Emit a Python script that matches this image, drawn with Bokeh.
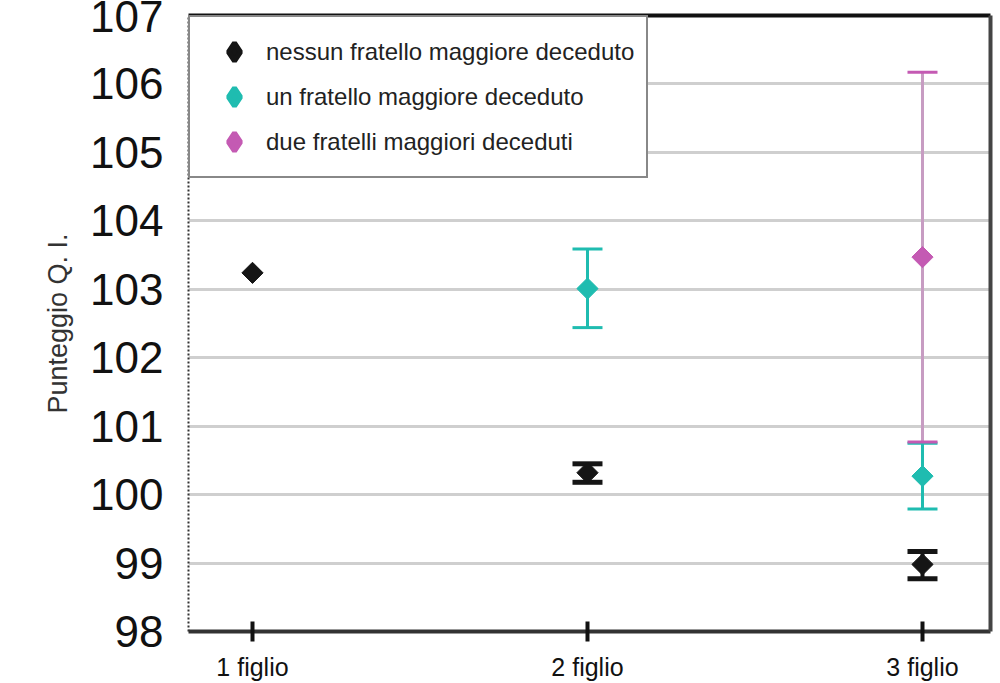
from bokeh.embed import file_html
from bokeh.resources import INLINE
from bokeh.plotting import figure
from bokeh.models import (ColumnDataSource, Range1d, FixedTicker, LinearAxis,
                          Whisker, TeeHead, Legend, LegendItem)
import numpy as np

# categories on the x axis
categories = ["1 figlio", "2 figlio", "3 figlio"]
cat_pos = [1, 2, 3]

# nessun fratello maggiore deceduto (black)
none_x = [1, 2, 3]
none_mean = [103.24, 100.32, 98.98]
none_low = [103.24, 100.18, 98.77]
none_high = [103.24, 100.45, 99.17]

# un fratello maggiore deceduto (teal)
one_x = [2, 3]
one_mean = [103.01, 100.27]
one_low = [102.44, 99.79]
one_high = [103.59, 100.75]

# due fratelli maggiori deceduti (magenta)
two_x = [3]
two_mean = [103.47]
two_low = [100.77]
two_high = [106.17]

legend_labels = ["nessun fratello maggiore deceduto",
                 "un fratello maggiore deceduto",
                 "due fratelli maggiori deceduti"]

FONT = "Liberation Sans"

p = figure(width=1000, height=683, output_backend="svg", toolbar_location=None,
           x_range=Range1d(0.809, 3.203), y_range=Range1d(98, 107),
           min_border_left=188, min_border_top=15, min_border_right=10, min_border_bottom=51)
p.outline_line_color = None
p.background_fill_color = "white"
p.border_fill_color = "white"

# grid
p.xgrid.grid_line_color = None
p.ygrid.grid_line_color = "#cfcfcf"
p.ygrid.grid_line_width = 3
p.yaxis.ticker = FixedTicker(ticks=list(range(98, 108)))
p.ygrid.ticker = FixedTicker(ticks=list(range(99, 107)))

# y axis
p.yaxis.axis_label = "Punteggio Q. I."
p.yaxis.axis_label_text_font = FONT
p.yaxis.axis_label_text_font_style = "normal"
p.yaxis.axis_label_text_font_size = "27px"
p.yaxis.axis_label_text_color = "#333333"
p.yaxis.axis_label_standoff = 14
p.yaxis.major_label_text_font = FONT
p.yaxis.major_label_text_font_size = "44px"
p.yaxis.major_label_text_color = "#111111"
p.yaxis.major_label_standoff = 25
p.yaxis.major_tick_in = 0
p.yaxis.major_tick_out = 0
p.yaxis.minor_tick_line_color = None
p.yaxis.axis_line_color = "#333333"
p.yaxis.axis_line_width = 2
p.yaxis.axis_line_dash = "2 2"

# x axis
p.xaxis.ticker = FixedTicker(ticks=cat_pos)
p.xaxis.major_label_overrides = {k: v for k, v in zip(cat_pos, categories)}
p.xaxis.major_label_text_font = FONT
p.xaxis.major_label_text_font_size = "25px"
p.xaxis.major_label_text_color = "#111111"
p.xaxis.major_label_standoff = 11
p.xaxis.major_tick_in = 10
p.xaxis.major_tick_out = 10
p.xaxis.major_tick_line_width = 4
p.xaxis.major_tick_line_color = "#111111"
p.xaxis.minor_tick_line_color = None
p.xaxis.axis_line_color = "#333333"
p.xaxis.axis_line_width = 4

# frame top and right
for side in ["above", "right"]:
    ax = LinearAxis(ticker=FixedTicker(ticks=[]), major_tick_in=0, major_tick_out=0,
                    minor_tick_line_color=None, axis_line_width=4,
                    axis_line_color="#111111" if side == "above" else "#444444")
    p.add_layout(ax, side)

# error bars
def bars(xs, lows, highs, color, width, cap_color, cap_width):
    src = ColumnDataSource(data=dict(base=xs, lower=lows, upper=highs))
    w = Whisker(source=src, base="base", lower="lower", upper="upper", dimension="height",
                line_color=color, line_width=width,
                upper_head=TeeHead(size=30, line_color=cap_color, line_width=cap_width),
                lower_head=TeeHead(size=30, line_color=cap_color, line_width=cap_width))
    p.add_layout(w)

BLACK = "#151515"
TEAL = "#1fbcb0"
MAG = "#c45ab3"

bars(none_x[1:], none_low[1:], none_high[1:], BLACK, 4, BLACK, 5)
bars(one_x, one_low, one_high, TEAL, 3, TEAL, 3)
bars(two_x, two_low, two_high, "#c79cc2", 3, MAG, 3)

series = [(none_x, none_mean, BLACK), (one_x, one_mean, TEAL), (two_x, two_mean, MAG)]

# points (diamonds drawn as rotated squares)
for xs, ys, c in series:
    p.scatter(xs, ys, marker="square", angle=np.pi / 4, size=15, fill_color=c, line_color=c)

# zero-size diamond renderers on the same points, used for the legend glyphs
leg_r = [p.scatter(xs, ys, marker="diamond", size=0, fill_color=c, line_color=c, line_width=5)
         for xs, ys, c in series]

legend = Legend(items=[LegendItem(label=lab, renderers=[r]) for lab, r in zip(legend_labels, leg_r)],
                location="top_left", margin=0, padding=12, spacing=0,
                glyph_width=64, glyph_height=45, label_height=26, label_standoff=0,
                label_text_font=FONT, label_text_font_size="24px",
                label_text_color="#222222",
                border_line_color="#111111", border_line_width=2,
                background_fill_color="white", background_fill_alpha=1.0)
p.add_layout(legend)

open("out.html", "w").write(file_html(p, INLINE))
